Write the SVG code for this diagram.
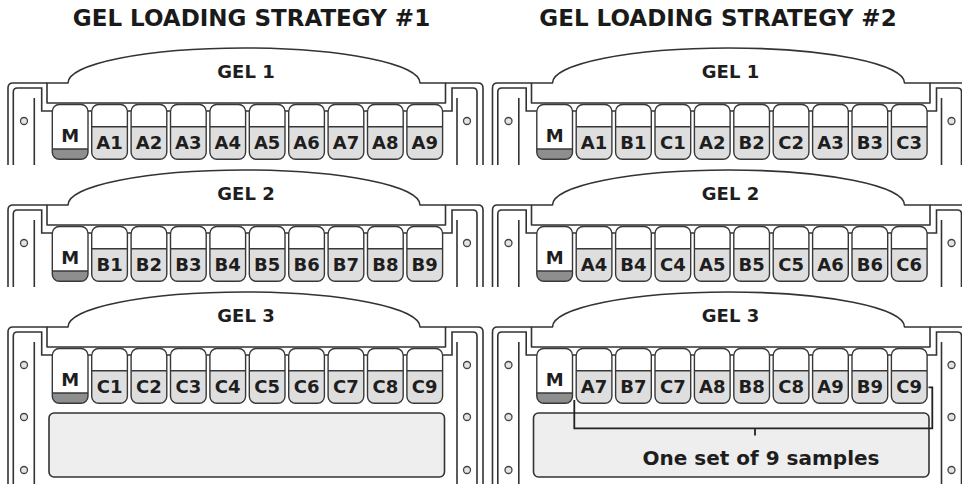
<svg xmlns="http://www.w3.org/2000/svg" width="962" height="484" viewBox="0 0 962 484">
<style>
.ln{fill:none;stroke:#333;stroke-width:1.6}
.comb{fill:#fff;stroke:#333;stroke-width:1.6;stroke-linejoin:round}
.hole{fill:#e4e4e4;stroke:#444;stroke-width:1.3}
.gelbody{fill:#eeeeee;stroke:#333;stroke-width:1.6}
.wo{fill:none;stroke:#383838;stroke-width:1.4}
.br{fill:none;stroke:#222;stroke-width:1.8}
.wt{font-family:"DejaVu Sans",Verdana,sans-serif;font-weight:bold;font-size:18px;fill:#1e1e1e;text-anchor:middle}
.gl{font-family:"DejaVu Sans",Verdana,sans-serif;font-weight:bold;font-size:18px;fill:#1e1e1e;text-anchor:middle}
.title{font-family:"DejaVu Sans",Verdana,sans-serif;font-weight:bold;font-size:23px;fill:#1a1a1a;text-anchor:middle}
.note{font-family:"DejaVu Sans",Verdana,sans-serif;font-weight:bold;font-size:20px;fill:#1e1e1e;text-anchor:middle}
</style>
<defs>
<g id="sw">
<rect width="35.7" height="54.8" rx="7" fill="#fff"/>
<path d="M0,22.2H35.7V47.8A7,7 0 0 1 28.7,54.8H7A7,7 0 0 1 0,47.8Z" fill="#dedede"/>
<line class="wo" x1="0" y1="22.2" x2="35.7" y2="22.2"/>
<rect class="wo" width="35.7" height="54.8" rx="7"/>
</g>
<g id="mw">
<rect width="35.7" height="54.8" rx="7" fill="#fff"/>
<path d="M0,44.5H35.7V47.8A7,7 0 0 1 28.7,54.8H7A7,7 0 0 1 0,47.8Z" fill="#8e8e8e"/>
<line class="wo" x1="0" y1="44.5" x2="35.7" y2="44.5"/>
<rect class="wo" width="35.7" height="54.8" rx="7"/>
<text class="wt" x="17.85" y="37.5">M</text>
</g>
<g id="tray">
<path class="ln" d="M8,82V5Q8,0 13,0H47M445.5,0H478Q483,0 483,5V82"/>
<path class="ln" d="M13.3,82V9Q13.3,5 17.3,5H41.7V28H452V5H473Q477,5 477,9V82"/>
<path class="ln" d="M34.3,15V82M457,15V82"/>
<circle class="hole" cx="24" cy="38" r="3.5"/>
<circle class="hole" cx="467" cy="38" r="3.5"/>
<path class="comb" d="M47,20V0H68A176,35 0 0 1 420,0H445.5V20Z"/>
</g>
<g id="tray3">
<path class="ln" d="M8,165V5Q8,0 13,0H47M445.5,0H478Q483,0 483,5V165"/>
<path class="ln" d="M13.3,165V9Q13.3,5 17.3,5H41.7V28H452V5H473Q477,5 477,9V165"/>
<path class="ln" d="M34.3,15V165M457,15V165"/>
<circle class="hole" cx="24" cy="38" r="3.5"/>
<circle class="hole" cx="24" cy="90" r="3.5"/>
<circle class="hole" cx="24" cy="143" r="3.5"/>
<circle class="hole" cx="467" cy="38" r="3.5"/>
<circle class="hole" cx="467" cy="90" r="3.5"/>
<circle class="hole" cx="467" cy="143" r="3.5"/>
<path class="comb" d="M47,20V0H68A176,35 0 0 1 420,0H445.5V20Z"/>
<rect class="gelbody" x="49" y="86" width="395.5" height="64" rx="5"/>
</g>
</defs>
<rect width="962" height="484" fill="#fff"/>
<text class="title" x="251.5" y="26">GEL LOADING STRATEGY #1</text>
<text class="title" x="718" y="26">GEL LOADING STRATEGY #2</text>

<g id="strategy1">
<g id="s1-gel1" transform="translate(0,83)">
<use href="#tray"/>
<text class="gl" x="246" y="-5.5">GEL 1</text>
<g id="s1g1-M" transform="translate(52.3,21.5)"><use href="#mw"/></g>
<g id="s1g1-A1" transform="translate(91.7,21.5)"><use href="#sw"/><text class="wt" x="17.85" y="44.8">A1</text></g>
<g id="s1g1-A2" transform="translate(131.1,21.5)"><use href="#sw"/><text class="wt" x="17.85" y="44.8">A2</text></g>
<g id="s1g1-A3" transform="translate(170.5,21.5)"><use href="#sw"/><text class="wt" x="17.85" y="44.8">A3</text></g>
<g id="s1g1-A4" transform="translate(209.9,21.5)"><use href="#sw"/><text class="wt" x="17.85" y="44.8">A4</text></g>
<g id="s1g1-A5" transform="translate(249.3,21.5)"><use href="#sw"/><text class="wt" x="17.85" y="44.8">A5</text></g>
<g id="s1g1-A6" transform="translate(288.7,21.5)"><use href="#sw"/><text class="wt" x="17.85" y="44.8">A6</text></g>
<g id="s1g1-A7" transform="translate(328.1,21.5)"><use href="#sw"/><text class="wt" x="17.85" y="44.8">A7</text></g>
<g id="s1g1-A8" transform="translate(367.5,21.5)"><use href="#sw"/><text class="wt" x="17.85" y="44.8">A8</text></g>
<g id="s1g1-A9" transform="translate(406.9,21.5)"><use href="#sw"/><text class="wt" x="17.85" y="44.8">A9</text></g>
</g>
<g id="s1-gel2" transform="translate(0,205)">
<use href="#tray"/>
<text class="gl" x="246" y="-5.5">GEL 2</text>
<g id="s1g2-M" transform="translate(52.3,21.5)"><use href="#mw"/></g>
<g id="s1g2-B1" transform="translate(91.7,21.5)"><use href="#sw"/><text class="wt" x="17.85" y="44.8">B1</text></g>
<g id="s1g2-B2" transform="translate(131.1,21.5)"><use href="#sw"/><text class="wt" x="17.85" y="44.8">B2</text></g>
<g id="s1g2-B3" transform="translate(170.5,21.5)"><use href="#sw"/><text class="wt" x="17.85" y="44.8">B3</text></g>
<g id="s1g2-B4" transform="translate(209.9,21.5)"><use href="#sw"/><text class="wt" x="17.85" y="44.8">B4</text></g>
<g id="s1g2-B5" transform="translate(249.3,21.5)"><use href="#sw"/><text class="wt" x="17.85" y="44.8">B5</text></g>
<g id="s1g2-B6" transform="translate(288.7,21.5)"><use href="#sw"/><text class="wt" x="17.85" y="44.8">B6</text></g>
<g id="s1g2-B7" transform="translate(328.1,21.5)"><use href="#sw"/><text class="wt" x="17.85" y="44.8">B7</text></g>
<g id="s1g2-B8" transform="translate(367.5,21.5)"><use href="#sw"/><text class="wt" x="17.85" y="44.8">B8</text></g>
<g id="s1g2-B9" transform="translate(406.9,21.5)"><use href="#sw"/><text class="wt" x="17.85" y="44.8">B9</text></g>
</g>
<g id="s1-gel3" transform="translate(0,327)">
<use href="#tray3"/>
<text class="gl" x="246" y="-5.5">GEL 3</text>
<g id="s1g3-M" transform="translate(52.3,21.5)"><use href="#mw"/></g>
<g id="s1g3-C1" transform="translate(91.7,21.5)"><use href="#sw"/><text class="wt" x="17.85" y="44.8">C1</text></g>
<g id="s1g3-C2" transform="translate(131.1,21.5)"><use href="#sw"/><text class="wt" x="17.85" y="44.8">C2</text></g>
<g id="s1g3-C3" transform="translate(170.5,21.5)"><use href="#sw"/><text class="wt" x="17.85" y="44.8">C3</text></g>
<g id="s1g3-C4" transform="translate(209.9,21.5)"><use href="#sw"/><text class="wt" x="17.85" y="44.8">C4</text></g>
<g id="s1g3-C5" transform="translate(249.3,21.5)"><use href="#sw"/><text class="wt" x="17.85" y="44.8">C5</text></g>
<g id="s1g3-C6" transform="translate(288.7,21.5)"><use href="#sw"/><text class="wt" x="17.85" y="44.8">C6</text></g>
<g id="s1g3-C7" transform="translate(328.1,21.5)"><use href="#sw"/><text class="wt" x="17.85" y="44.8">C7</text></g>
<g id="s1g3-C8" transform="translate(367.5,21.5)"><use href="#sw"/><text class="wt" x="17.85" y="44.8">C8</text></g>
<g id="s1g3-C9" transform="translate(406.9,21.5)"><use href="#sw"/><text class="wt" x="17.85" y="44.8">C9</text></g>
</g>
</g>

<g id="strategy2" transform="translate(484.5,0)">
<g id="s2-gel1" transform="translate(0,83)">
<use href="#tray"/>
<text class="gl" x="246" y="-5.5">GEL 1</text>
<g id="s2g1-M" transform="translate(52.3,21.5)"><use href="#mw"/></g>
<g id="s2g1-A1" transform="translate(91.7,21.5)"><use href="#sw"/><text class="wt" x="17.85" y="44.8">A1</text></g>
<g id="s2g1-B1" transform="translate(131.1,21.5)"><use href="#sw"/><text class="wt" x="17.85" y="44.8">B1</text></g>
<g id="s2g1-C1" transform="translate(170.5,21.5)"><use href="#sw"/><text class="wt" x="17.85" y="44.8">C1</text></g>
<g id="s2g1-A2" transform="translate(209.9,21.5)"><use href="#sw"/><text class="wt" x="17.85" y="44.8">A2</text></g>
<g id="s2g1-B2" transform="translate(249.3,21.5)"><use href="#sw"/><text class="wt" x="17.85" y="44.8">B2</text></g>
<g id="s2g1-C2" transform="translate(288.7,21.5)"><use href="#sw"/><text class="wt" x="17.85" y="44.8">C2</text></g>
<g id="s2g1-A3" transform="translate(328.1,21.5)"><use href="#sw"/><text class="wt" x="17.85" y="44.8">A3</text></g>
<g id="s2g1-B3" transform="translate(367.5,21.5)"><use href="#sw"/><text class="wt" x="17.85" y="44.8">B3</text></g>
<g id="s2g1-C3" transform="translate(406.9,21.5)"><use href="#sw"/><text class="wt" x="17.85" y="44.8">C3</text></g>
</g>
<g id="s2-gel2" transform="translate(0,205)">
<use href="#tray"/>
<text class="gl" x="246" y="-5.5">GEL 2</text>
<g id="s2g2-M" transform="translate(52.3,21.5)"><use href="#mw"/></g>
<g id="s2g2-A4" transform="translate(91.7,21.5)"><use href="#sw"/><text class="wt" x="17.85" y="44.8">A4</text></g>
<g id="s2g2-B4" transform="translate(131.1,21.5)"><use href="#sw"/><text class="wt" x="17.85" y="44.8">B4</text></g>
<g id="s2g2-C4" transform="translate(170.5,21.5)"><use href="#sw"/><text class="wt" x="17.85" y="44.8">C4</text></g>
<g id="s2g2-A5" transform="translate(209.9,21.5)"><use href="#sw"/><text class="wt" x="17.85" y="44.8">A5</text></g>
<g id="s2g2-B5" transform="translate(249.3,21.5)"><use href="#sw"/><text class="wt" x="17.85" y="44.8">B5</text></g>
<g id="s2g2-C5" transform="translate(288.7,21.5)"><use href="#sw"/><text class="wt" x="17.85" y="44.8">C5</text></g>
<g id="s2g2-A6" transform="translate(328.1,21.5)"><use href="#sw"/><text class="wt" x="17.85" y="44.8">A6</text></g>
<g id="s2g2-B6" transform="translate(367.5,21.5)"><use href="#sw"/><text class="wt" x="17.85" y="44.8">B6</text></g>
<g id="s2g2-C6" transform="translate(406.9,21.5)"><use href="#sw"/><text class="wt" x="17.85" y="44.8">C6</text></g>
</g>
<g id="s2-gel3" transform="translate(0,327)">
<use href="#tray3"/>
<text class="gl" x="246" y="-5.5">GEL 3</text>
<g id="s2g3-M" transform="translate(52.3,21.5)"><use href="#mw"/></g>
<g id="s2g3-A7" transform="translate(91.7,21.5)"><use href="#sw"/><text class="wt" x="17.85" y="44.8">A7</text></g>
<g id="s2g3-B7" transform="translate(131.1,21.5)"><use href="#sw"/><text class="wt" x="17.85" y="44.8">B7</text></g>
<g id="s2g3-C7" transform="translate(170.5,21.5)"><use href="#sw"/><text class="wt" x="17.85" y="44.8">C7</text></g>
<g id="s2g3-A8" transform="translate(209.9,21.5)"><use href="#sw"/><text class="wt" x="17.85" y="44.8">A8</text></g>
<g id="s2g3-B8" transform="translate(249.3,21.5)"><use href="#sw"/><text class="wt" x="17.85" y="44.8">B8</text></g>
<g id="s2g3-C8" transform="translate(288.7,21.5)"><use href="#sw"/><text class="wt" x="17.85" y="44.8">C8</text></g>
<g id="s2g3-A9" transform="translate(328.1,21.5)"><use href="#sw"/><text class="wt" x="17.85" y="44.8">A9</text></g>
<g id="s2g3-B9" transform="translate(367.5,21.5)"><use href="#sw"/><text class="wt" x="17.85" y="44.8">B9</text></g>
<g id="s2g3-C9" transform="translate(406.9,21.5)"><use href="#sw"/><text class="wt" x="17.85" y="44.8">C9</text></g>
</g>
</g>

<g id="connectors">
<path class="br" d="M574.3,400V428.3H932.3V387.3H928.5"/>
<path class="br" d="M755,428.3V435.5"/>
</g>
<text class="note" x="761" y="465">One set of 9 samples</text>
</svg>
